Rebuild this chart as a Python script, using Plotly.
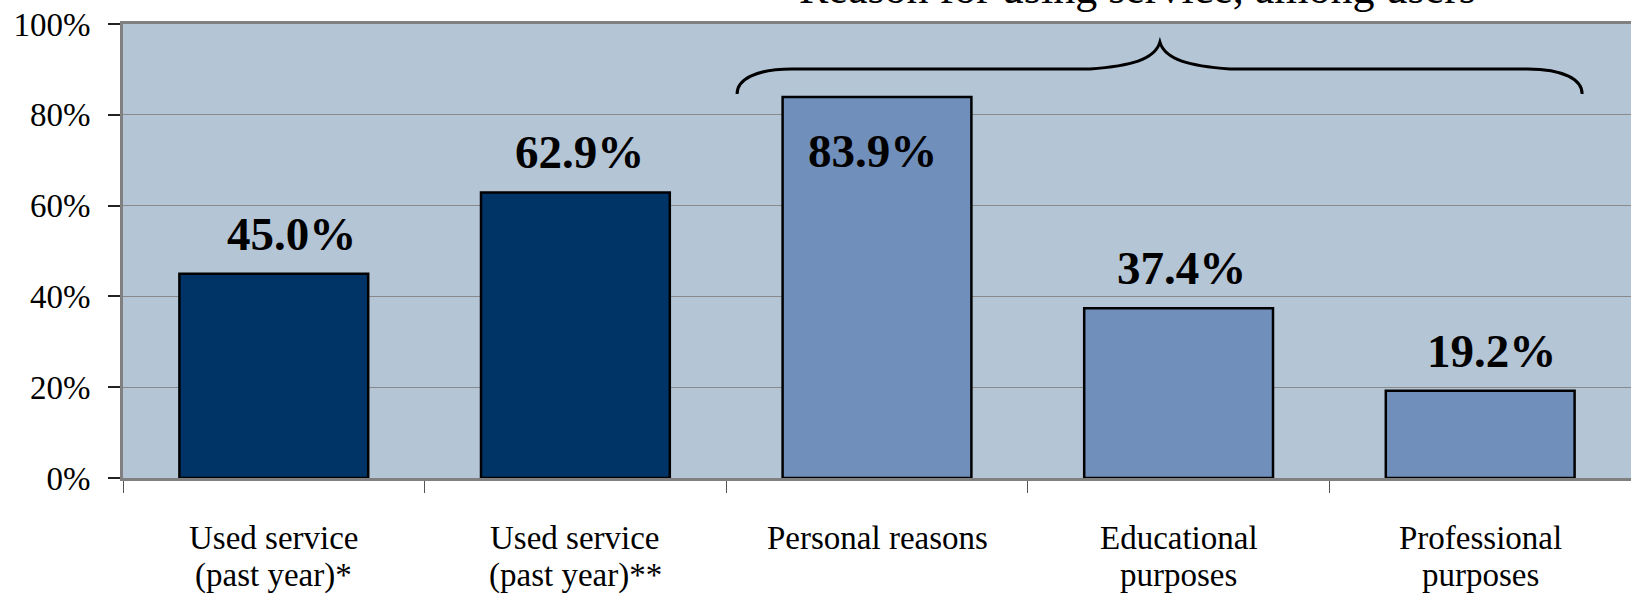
import plotly.graph_objects as go

# Survey results: share of respondents (%)
category_lines = [
    ["Used service", "(past year)*"],
    ["Used service", "(past year)**"],
    ["Personal reasons"],
    ["Educational", "purposes"],
    ["Professional", "purposes"],
]
values = [45.0, 62.9, 83.9, 37.4, 19.2]
groups = ["usage", "usage", "reason", "reason", "reason"]
y_ticks = [0, 20, 40, 60, 80, 100]
bracket_title = "Reason for using service, among users"

group_colors = {"usage": "#003366", "reason": "#7090BB"}
SERIF = "Liberation Serif"

# small horizontal nudges (px) for the value labels
label_xshift = [18, 4, -5, 3, 11]

x_pos = list(range(len(values)))
bar_colors = [group_colors[g] for g in groups]

fig = go.Figure(
    go.Bar(
        x=x_pos,
        y=values,
        width=0.626,
        marker=dict(color=bar_colors, line=dict(color="#000000", width=2.5)),
        hoverinfo="skip",
    )
)

annotations = []

# value labels above (or inside, for tall bars) each bar
for x, v, dx in zip(x_pos, values, label_xshift):
    inside = v > 80
    annotations.append(
        dict(
            x=x, y=v, xref="x", yref="y",
            text=f"{v:.1f}%",
            showarrow=False,
            yanchor="middle",
            xshift=dx,
            yshift=-54 if inside else 40,
            font=dict(family=SERIF, size=47, color="#000000", weight="bold"),
        )
    )

# category labels, one annotation per line
line_offsets = [-60, -97]
for x, lines in zip(x_pos, category_lines):
    for i, line in enumerate(lines):
        annotations.append(
            dict(
                x=x, y=0, xref="x", yref="paper",
                text=line,
                showarrow=False,
                yanchor="middle",
                yshift=line_offsets[i],
                font=dict(family=SERIF, size=33, color="#000000"),
            )
        )

# curly brace grouping the "reason" categories
xl, xr, xt = 1.536, 4.338, 2.938
ye, yb, yt = 84.6, 90.1, 96.0
curl_w, curl_c, curl_h = 0.182, 0.06, 3.1
tip_w, tip_c1, tip_c2, tip_h1, tip_h2 = 0.232, 0.099, 0.017, 0.66, 2.0
brace = (
    f"M {xl},{ye} C {xl},{ye + curl_h} {xl + curl_c},{yb} {xl + curl_w},{yb} "
    f"L {xt - tip_w},{yb} "
    f"C {xt - tip_c1},{yb + tip_h1} {xt - tip_c2},{yb + tip_h2} {xt},{yt} "
    f"C {xt + tip_c2},{yb + tip_h2} {xt + tip_c1},{yb + tip_h1} {xt + tip_w},{yb} "
    f"L {xr - curl_w},{yb} "
    f"C {xr - curl_c},{yb} {xr},{ye + curl_h} {xr},{ye}"
)

annotations.append(
    dict(
        x=2.865, y=1, xref="x", yref="paper",
        text=bracket_title,
        showarrow=False,
        yanchor="bottom",
        yshift=9,
        font=dict(family=SERIF, size=44, color="#000000"),
    )
)

fig.update_layout(
    width=1631,
    height=609,
    margin=dict(l=123, r=0, t=24, b=131),
    paper_bgcolor="#FFFFFF",
    plot_bgcolor="#B4C5D6",
    bargap=0.374,
    showlegend=False,
    annotations=annotations,
    shapes=[
        dict(
            type="path", path=brace, xref="x", yref="y",
            line=dict(color="#000000", width=3),
            layer="above",
        )
    ],
    xaxis=dict(
        range=[-0.5, len(values) - 0.5],
        tickvals=[i - 0.5 for i in range(len(values) + 1)],
        showticklabels=False,
        ticks="outside",
        ticklen=12,
        tickcolor="#555555",
        tickwidth=1,
        showgrid=False,
        zeroline=False,
        showline=True,
        linecolor="#808080",
        linewidth=3,
        mirror=True,
        fixedrange=True,
    ),
    yaxis=dict(
        range=[0, 100],
        tickvals=y_ticks,
        ticktext=[f"{t}%" for t in y_ticks],
        ticks="outside",
        ticklen=12,
        tickcolor="#222222",
        tickwidth=1.5,
        ticklabelstandoff=11,
        tickfont=dict(family=SERIF, size=33, color="#000000"),
        showgrid=True,
        gridcolor="#8A8A8A",
        gridwidth=1,
        zeroline=False,
        showline=True,
        linecolor="#808080",
        linewidth=3,
        fixedrange=True,
    ),
)

fig.write_html("out.html")
